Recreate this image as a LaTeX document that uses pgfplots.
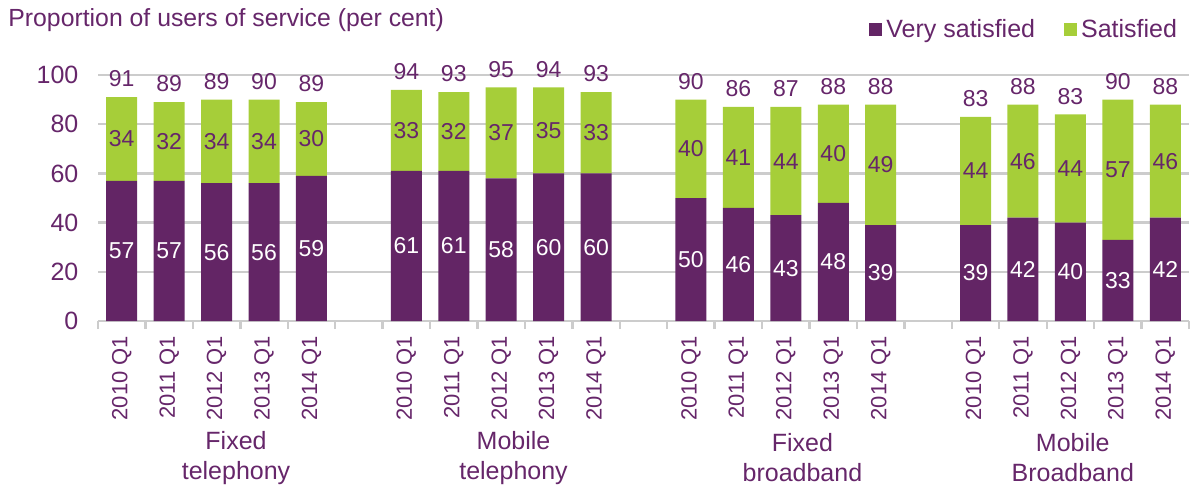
\documentclass[border=0pt]{standalone}
\usepackage{pgfplots}
\pgfplotsset{compat=1.18}
\usepackage{pgfplotstable}
\usepackage{fontspec}
\setmainfont{Liberation Sans}
\definecolor{vs}{RGB}{99,37,101}
\definecolor{sat}{RGB}{166,206,57}
\definecolor{txt}{RGB}{102,38,106}
\definecolor{ax}{RGB}{204,204,204}

\pgfplotstableread{
x vs s tot
0 57 34 91
1 57 32 89
2 56 34 89
3 56 34 90
4 59 30 89
6 61 33 94
7 61 32 93
8 58 37 95
9 60 35 94
10 60 33 93
12 50 40 90
13 46 41 86
14 43 44 87
15 48 40 88
16 39 49 88
18 39 44 83
19 42 46 88
20 40 44 83
21 33 57 90
22 42 46 88
}\data

\tikzset{grouplab/.style={align=center, text=txt, font=\fontsize{12.5}{15}\selectfont, inner sep=0pt, yshift=-68.5pt}}
\pgfplotsset{common/.style={
  scale only axis,
  width=545.5pt, height=123pt,
  xmin=-0.5, xmax=22.5,
  ymin=0, ymax=100,
  clip=false,
  /pgf/number format/assume math mode=true,
}}

\begin{document}
\begin{tikzpicture}
\begin{axis}[
  common,
  ybar stacked,
  bar width=15.5pt,
  axis x line*=bottom,
  axis y line*=left,
  y axis line style={draw=none},
  x axis line style={draw=ax, line width=1.4pt},
  xtick={0,1,2,3,4,6,7,8,9,10,12,13,14,15,16,18,19,20,21,22},
  xticklabels={2010 Q1,2011 Q1,2012 Q1,2013 Q1,2014 Q1,2010 Q1,2011 Q1,2012 Q1,2013 Q1,2014 Q1,2010 Q1,2011 Q1,2012 Q1,2013 Q1,2014 Q1,2010 Q1,2011 Q1,2012 Q1,2013 Q1,2014 Q1},
  minor xtick={-0.5,0.5,...,22.5},
  major x tick style={draw=none},
  minor x tick style={draw=ax, line width=1.2pt},
  minor tick length=4pt,
  tick align=outside,
  xticklabel style={font=\fontsize{11}{13}\selectfont, text=txt, yshift=-3pt, rotate=90, anchor=east, inner sep=0pt},
  ytick={0,20,40,60,80,100},
  major y tick style={draw=none},
  yticklabel style={font=\fontsize{12.5}{14}\selectfont, text=txt, xshift=-2pt},
  ymajorgrids,
  major grid style={draw=ax, line width=1.2pt},
  legend style={draw=none, fill=none, at={(0.993,1.183)}, anchor=east, legend columns=2,
    font=\fontsize{12.5}{14}\selectfont, text=txt, inner sep=0pt,
    /tikz/every even column/.append style={column sep=12.5pt}},
  legend image code/.code={\fill[#1] (-3pt,-3.2pt) rectangle (3.5pt,3.3pt);},
]
\addplot[fill=vs, draw=none] table[x=x, y=vs] {\data};
\addlegendentry{Very satisfied}
\addplot[fill=sat, draw=none] table[x=x, y=s] {\data};
\addlegendentry{Satisfied}

\node[anchor=west, text=txt, font=\fontsize{12.4}{14}\selectfont, inner sep=0pt] at (rel axis cs:0,1.224) [xshift=-45pt] {Proportion of users of service (per cent)};
\node[grouplab] at (axis cs:2.41,0) {Fixed\\telephony};
\node[grouplab] at (axis cs:8.26,0) {Mobile\\telephony};
\node[grouplab] at (axis cs:14.35,0) {Fixed\\broadband};
\node[grouplab] at (axis cs:20.05,0) {Mobile\\Broadband};
\end{axis}
\begin{axis}[
  common,
  axis lines=none,
]
% labels inside the purple segments
\addplot[only marks, mark=none, nodes near coords, point meta=explicit,
  every node near coord/.style={text=white, font=\fontsize{11.5}{13}\selectfont, anchor=center}]
  table[x=x, y expr=\thisrow{vs}/2, meta=vs] {\data};
% labels inside the green segments
\addplot[only marks, mark=none, nodes near coords, point meta=explicit,
  every node near coord/.style={text=txt, font=\fontsize{11.5}{13}\selectfont, anchor=center}]
  table[x=x, y expr=\thisrow{vs}+\thisrow{s}/2, meta=s] {\data};
% totals above the bars
\addplot[only marks, mark=none, nodes near coords, point meta=explicit,
  every node near coord/.style={text=txt, font=\fontsize{11.5}{13}\selectfont, anchor=south, yshift=1.5pt}]
  table[x=x, y expr=\thisrow{vs}+\thisrow{s}, meta=tot] {\data};
\end{axis}
\pgfresetboundingbox
\path[use as bounding box] ([xshift=-49pt,yshift=-84pt]current axis.south west) rectangle ([xshift=1pt,yshift=37.5pt]current axis.north east);
\end{tikzpicture}
\end{document}
